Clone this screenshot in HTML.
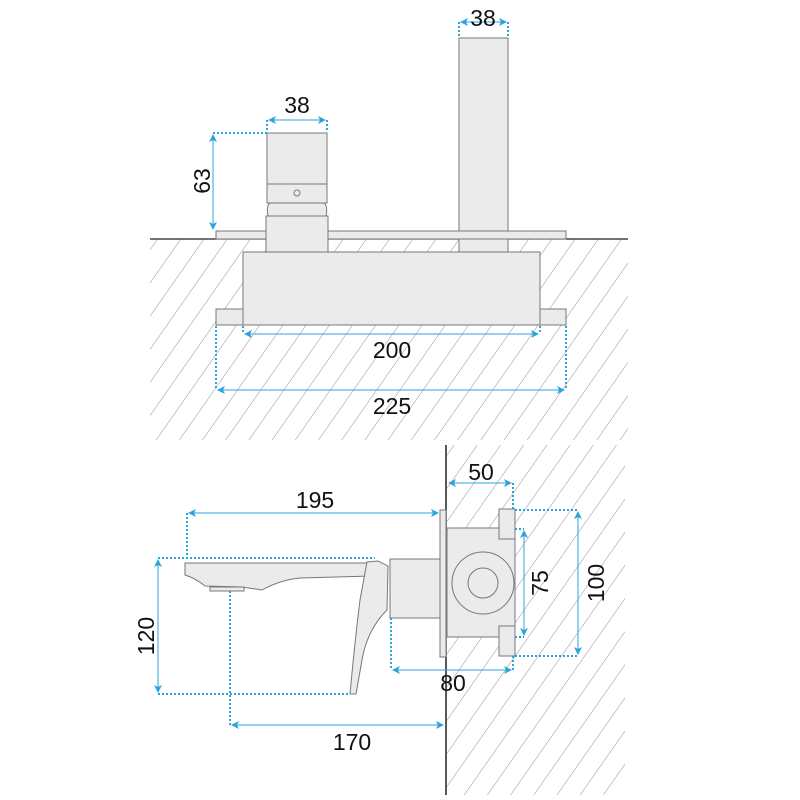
<!DOCTYPE html>
<html><head><meta charset="utf-8"><style>body{margin:0;background:#fff}svg{display:block}</style></head><body>
<svg width="800" height="800" viewBox="0 0 800 800" xmlns="http://www.w3.org/2000/svg" font-family="Liberation Sans, sans-serif" font-size="23">
<defs>
<pattern id="h" patternUnits="userSpaceOnUse" width="19" height="19" patternTransform="rotate(35)">
<line x1="0" y1="0" x2="0" y2="19" stroke="#777" stroke-width="0.8"/>
</pattern>
<marker id="a" markerWidth="8" markerHeight="8" refX="7" refY="4" orient="auto-start-reverse" markerUnits="userSpaceOnUse"><path d="M0,0 L8,4 L0,8 L2,4z" fill="#2aa4dc"/></marker>
</defs>
<!-- top hatch -->
<rect x="150" y="239" width="478" height="201" fill="url(#h)"/>
<line x1="150" y1="239" x2="628" y2="239" stroke="#222" stroke-width="1.3"/>
<g fill="#ebebeb" stroke="#777" stroke-width="1">
<rect x="459" y="38" width="49" height="214"/>
<rect x="216" y="231" width="350" height="8"/>
<rect x="266" y="216" width="62" height="36"/>
<path d="M268,216 Q266,206 270,203 L324,203 Q328,206 326,216Z"/>
<rect x="267" y="133" width="60" height="51"/>
<rect x="267" y="184" width="60" height="19"/>
<rect x="243" y="252" width="297" height="73"/>
<rect x="216" y="309" width="27" height="16"/>
<rect x="540" y="309" width="26" height="16"/>
</g>
<circle cx="297" cy="193" r="3" fill="none" stroke="#777"/>
<g stroke="#2aa4dc" stroke-width="1" fill="none">
<line x1="461" y1="22" x2="506" y2="22" marker-start="url(#a)" marker-end="url(#a)"/>
<line x1="269" y1="120" x2="325" y2="120" marker-start="url(#a)" marker-end="url(#a)"/>
<line x1="213" y1="135" x2="213" y2="229" marker-start="url(#a)" marker-end="url(#a)"/>
<line x1="245" y1="334" x2="538" y2="334" marker-start="url(#a)" marker-end="url(#a)"/>
<line x1="218" y1="390" x2="564" y2="390" marker-start="url(#a)" marker-end="url(#a)"/>
<g stroke-dasharray="2,2" stroke-width="2">
<line x1="459" y1="22" x2="459" y2="36"/><line x1="508" y1="22" x2="508" y2="36"/>
<line x1="267" y1="120" x2="267" y2="132"/><line x1="327" y1="120" x2="327" y2="132"/>
<line x1="213" y1="133" x2="267" y2="133"/>
<line x1="216" y1="326" x2="216" y2="390"/><line x1="566" y1="326" x2="566" y2="390"/>
<line x1="243" y1="326" x2="243" y2="334"/><line x1="540" y1="326" x2="540" y2="334"/>
</g>
</g>
<g fill="#111" text-anchor="middle">
<text x="483" y="26">38</text>
<text x="297" y="113">38</text>
<text x="392" y="358">200</text>
<text x="392" y="414">225</text>
<text transform="translate(210,181) rotate(-90)">63</text>
</g>
<!-- bottom -->
<rect x="447" y="445" width="178" height="350" fill="url(#h)"/>
<line x1="446" y1="445" x2="446" y2="795" stroke="#222" stroke-width="1.5"/>
<g fill="#ebebeb" stroke="#777" stroke-width="1">
<rect x="440" y="510" width="6" height="147"/>
<rect x="447" y="528" width="68" height="109"/>
<rect x="499" y="509" width="16" height="30"/>
<rect x="499" y="626" width="16" height="30"/>
<rect x="390" y="559" width="50" height="59"/>
<path d="M185,563 L370,563 L372,576 L300,578 Q280,580 262,590 L242,587 L205,586 Q195,578 185,575Z"/>
<rect x="210" y="587" width="34" height="4"/>
<path d="M367,562 L378,561 L388,566 L387,610 Q367,630 362,660 L356,694 L350,694 Q355,640 360,600Z"/>
</g>
<circle cx="483" cy="583" r="31" fill="none" stroke="#777"/>
<circle cx="483" cy="583" r="15" fill="none" stroke="#777"/>
<g stroke="#2aa4dc" stroke-width="1" fill="none">
<line x1="189" y1="513" x2="438" y2="513" marker-start="url(#a)" marker-end="url(#a)"/>
<line x1="449" y1="483" x2="511" y2="483" marker-start="url(#a)" marker-end="url(#a)"/>
<line x1="578" y1="512" x2="578" y2="654" marker-start="url(#a)" marker-end="url(#a)"/>
<line x1="524" y1="531" x2="524" y2="635" marker-start="url(#a)" marker-end="url(#a)"/>
<line x1="393" y1="670" x2="511" y2="670" marker-start="url(#a)" marker-end="url(#a)"/>
<line x1="158" y1="560" x2="158" y2="692" marker-start="url(#a)" marker-end="url(#a)"/>
<line x1="232" y1="725" x2="443" y2="725" marker-start="url(#a)" marker-end="url(#a)"/>
<g stroke-dasharray="2,2" stroke-width="2">
<line x1="158" y1="558" x2="375" y2="558"/>
<line x1="158" y1="694" x2="350" y2="694"/>
<line x1="187" y1="513" x2="187" y2="558"/>
<line x1="230" y1="591" x2="230" y2="725"/>
<line x1="391" y1="618" x2="391" y2="670"/>
<line x1="513" y1="483" x2="513" y2="509"/>
<line x1="515" y1="510" x2="578" y2="510"/>
<line x1="515" y1="529" x2="524" y2="529"/>
<line x1="515" y1="637" x2="524" y2="637"/>
<line x1="515" y1="656" x2="578" y2="656"/>
<line x1="513" y1="656" x2="513" y2="670"/>
</g>
</g>
<g fill="#111" text-anchor="middle">
<text x="315" y="508">195</text>
<text x="481" y="480">50</text>
<text x="453" y="691">80</text>
<text x="352" y="750">170</text>
<text transform="translate(548,583) rotate(-90)">75</text>
<text transform="translate(604,583) rotate(-90)">100</text>
<text transform="translate(154,636) rotate(-90)">120</text>
</g>
</svg>
</body></html>
